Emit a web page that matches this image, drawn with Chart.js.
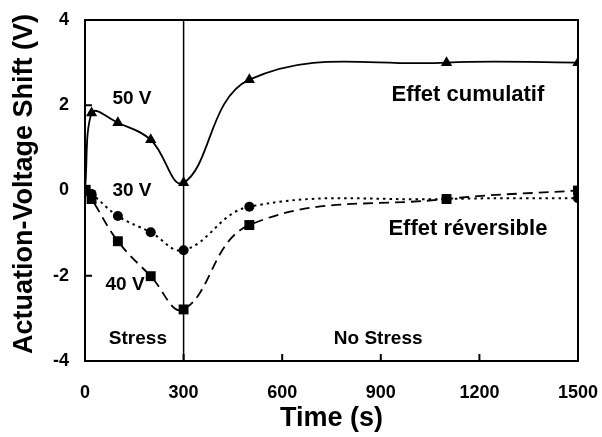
<!DOCTYPE html>
<html>
<head>
<meta charset="utf-8">
<script src="https://cdn.jsdelivr.net/npm/chart.js@4"></script>
<style>
  html, body { margin: 0; padding: 0; background: #fff; }
  #wrap { width: 602px; height: 437px; }
</style>
</head>
<body>
<div id="wrap"><canvas id="shiftChart" width="602" height="437"></canvas></div>
<script>
// Actuation-voltage shift vs time
const times50 = [0, 20, 100, 200, 300, 500, 1100, 1500];
const shift50 = [0, 1.82, 1.59, 1.19, 0.18, 2.6, 3.0, 3.0];

const times30 = [0, 20, 100, 200, 300, 500, 1100, 1500];
const shift30 = [0, -0.08, -0.6, -0.98, -1.4, -0.38, -0.2, -0.18];

const times40 = [0, 20, 100, 200, 300, 500, 1100, 1500];
const shift40 = [0, -0.2, -1.19, -2.01, -2.79, -0.81, -0.2, 0.0];

const xTicks = [0, 300, 600, 900, 1200, 1500];
const yTicks = [-4, -2, 0, 2, 4];

// text placed on the plot, in data units
const notes = [
  { text: '50 V', x: 143, y: 2.15, size: 19 },
  { text: '30 V', x: 143, y: 0.0, size: 19 },
  { text: '40 V', x: 122, y: -2.2, size: 19 },
  { text: 'Stress', x: 161, y: -3.48, size: 19 },
  { text: 'No Stress', x: 892, y: -3.48, size: 19 },
  { text: 'Effet cumulatif', x: 1165, y: 2.24, size: 22 },
  { text: 'Effet réversible', x: 1165, y: -0.91, size: 22 }
];
const stressEnd = 300;
const yTitle = 'Actuation-Voltage Shift (V)';

const FONT = "Arial, 'Liberation Sans', sans-serif";

const toXY = (xs, ys) => xs.map((x, i) => ({ x: x, y: ys[i] }));
// first point sits under the 40 V square
const hideFirst = r => c => (c.dataIndex === 0 ? 0 : r);

// box, inward ticks, the stress line, the notes and the y title
const framePlugin = {
  id: 'frame',
  afterDatasetsDraw(chart) {
    const { ctx, chartArea: a, scales: { x, y } } = chart;
    ctx.save();
    ctx.strokeStyle = '#000';

    ctx.lineWidth = 1.5;
    const sx = x.getPixelForValue(stressEnd);
    ctx.beginPath();
    ctx.moveTo(sx, a.top);
    ctx.lineTo(sx, a.bottom);
    ctx.stroke();

    ctx.lineWidth = 2;
    ctx.strokeRect(a.left, a.top, a.right - a.left, a.bottom - a.top);

    ctx.beginPath();
    yTicks.forEach(v => {
      const py = y.getPixelForValue(v);
      ctx.moveTo(a.left, py);
      ctx.lineTo(a.left + 7, py);
    });
    xTicks.forEach(v => {
      const px = x.getPixelForValue(v);
      ctx.moveTo(px, a.bottom);
      ctx.lineTo(px, a.bottom - 7);
    });
    ctx.stroke();

    ctx.fillStyle = '#000';
    ctx.textAlign = 'center';
    ctx.textBaseline = 'middle';
    notes.forEach(n => {
      ctx.font = 'bold ' + n.size + 'px ' + FONT;
      ctx.fillText(n.text, x.getPixelForValue(n.x), y.getPixelForValue(n.y));
    });

    ctx.translate(25, 184);
    ctx.rotate(-Math.PI / 2);
    ctx.font = 'bold 27px ' + FONT;
    ctx.fillText(yTitle, 0, 0);
    ctx.restore();
  }
};

const ctx = document.getElementById('shiftChart').getContext('2d');
const shiftChart = new Chart(ctx, {
  type: 'line',
  data: {
    datasets: [
      {
        label: '50 V',
        data: toXY(times50, shift50),
        borderColor: '#000',
        backgroundColor: '#000',
        borderWidth: 1.8,
        tension: 0.4,
        pointStyle: 'triangle',
        pointRadius: hideFirst(6.5),
        pointBorderWidth: 0
      },
      {
        label: '30 V',
        data: toXY(times30, shift30),
        borderColor: '#000',
        backgroundColor: '#000',
        borderWidth: 2,
        borderDash: [2.5, 4],
        tension: 0.4,
        pointStyle: 'circle',
        pointRadius: hideFirst(5),
        pointBorderWidth: 0
      },
      {
        label: '40 V',
        data: toXY(times40, shift40),
        borderColor: '#000',
        backgroundColor: '#000',
        borderWidth: 1.8,
        borderDash: [10, 6],
        tension: 0.4,
        pointStyle: 'rect',
        pointRadius: c => (c.dataIndex === 0 ? 8 : 7),
        pointBorderWidth: 0
      }
    ]
  },
  options: {
    responsive: false,
    animation: false,
    layout: { padding: { top: 20, right: 24, left: 0, bottom: 0 } },
    plugins: {
      legend: { display: false },
      tooltip: { enabled: false }
    },
    scales: {
      x: {
        type: 'linear',
        min: 0,
        max: 1500,
        afterBuildTicks: s => { s.ticks = xTicks.map(v => ({ value: v })); },
        afterFit: s => { s.height = 76; s.paddingLeft = 0; s.paddingRight = 0; },
        grid: { display: false, drawTicks: false },
        border: { display: false },
        ticks: {
          color: '#000',
          padding: 21,
          maxRotation: 0,
          callback: v => String(v),
          font: { family: FONT, size: 18, weight: 'bold' }
        },
        title: {
          display: true,
          text: 'Time (s)',
          color: '#000',
          padding: { top: 0, bottom: 2 },
          font: { family: FONT, size: 27, weight: 'bold' }
        }
      },
      y: {
        type: 'linear',
        min: -4,
        max: 4,
        afterBuildTicks: s => { s.ticks = yTicks.map(v => ({ value: v })); },
        afterFit: s => { s.width = 85; s.paddingTop = 0; s.paddingBottom = 0; },
        grid: { display: false, drawTicks: false },
        border: { display: false },
        ticks: {
          color: '#000',
          padding: 16,
          callback: v => String(v),
          font: { family: FONT, size: 18, weight: 'bold' }
        },
        title: { display: false }
      }
    }
  },
  plugins: [framePlugin]
});
</script>
</body>
</html>
